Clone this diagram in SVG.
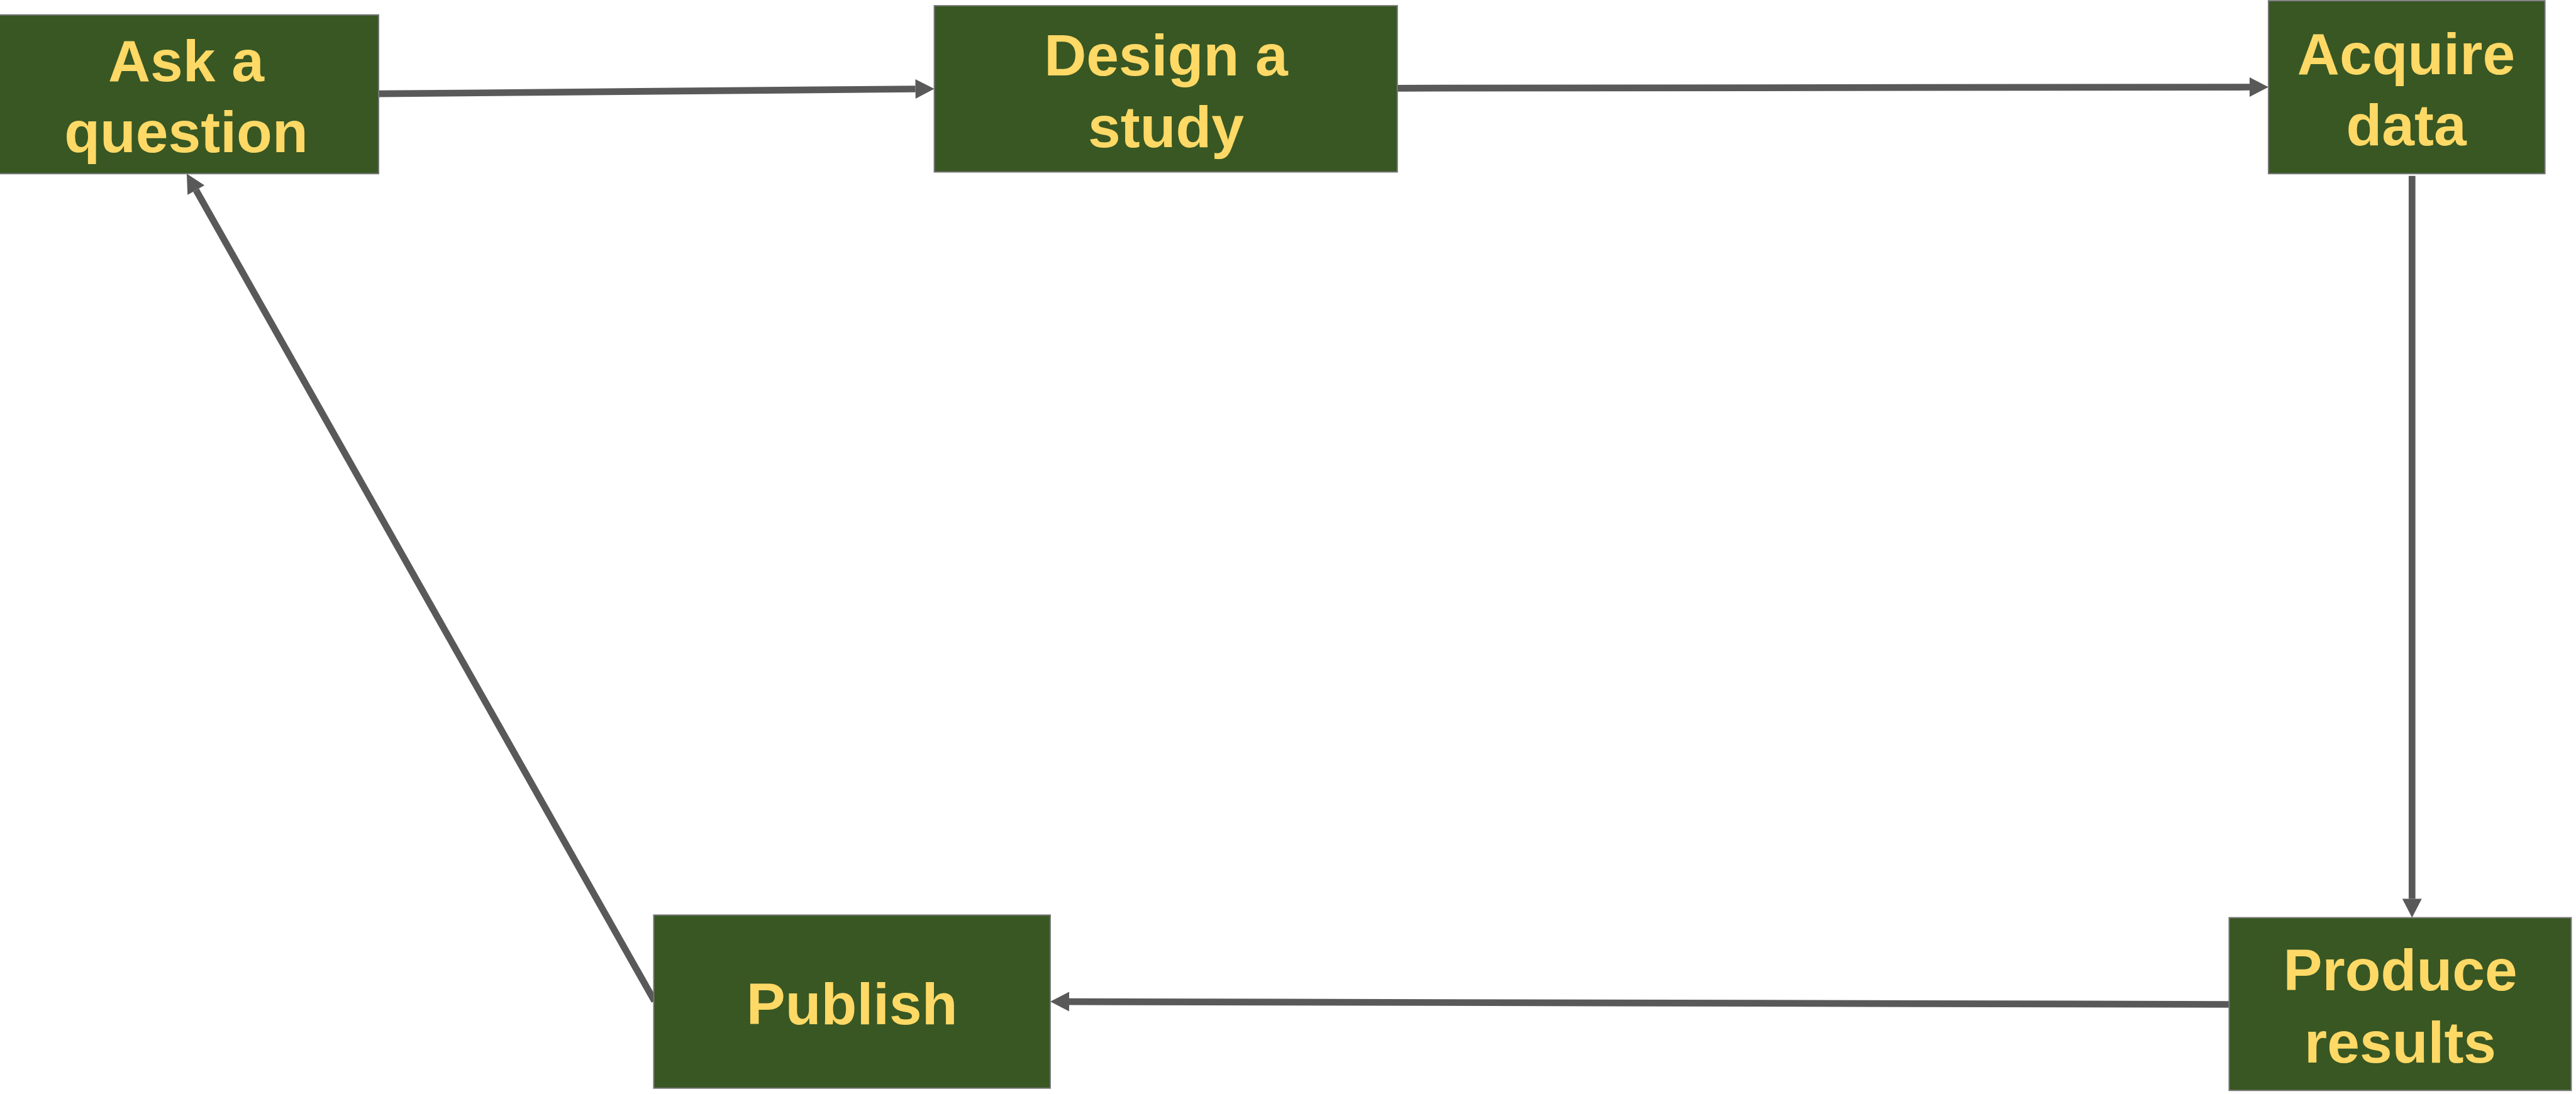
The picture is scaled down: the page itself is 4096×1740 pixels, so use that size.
<svg xmlns="http://www.w3.org/2000/svg" width="4096" height="1740" viewBox="0 0 4096 1740">
<style>
.box{fill:#385723;stroke:#767676;stroke-width:2}
.lbl{font-family:"Liberation Sans",Arial,sans-serif;font-weight:bold;font-size:93px;fill:#FFD966;text-anchor:middle}
.conn{stroke:#595959;stroke-width:10.7;fill:none;marker-end:url(#ah)}
</style>
<defs>
<marker id="ah" markerUnits="userSpaceOnUse" markerWidth="30" markerHeight="31" refX="0" refY="15.5" orient="auto" overflow="visible">
<path d="M0,0 L30,15.5 L0,31 Z" fill="#595959"/>
</marker>
</defs>
<rect width="4096" height="1740" fill="#ffffff"/>
<g id="connectors">
<line class="conn" x1="602" y1="149.2" x2="1455.6" y2="141.5"/>
<line class="conn" x1="2221.8" y1="140.3" x2="3577" y2="138.5"/>
<line class="conn" x1="3835.3" y1="279.7" x2="3835.3" y2="1429.6"/>
<line class="conn" x1="3544.5" y1="1597.5" x2="1700" y2="1593.1"/>
<line class="conn" x1="1040.7" y1="1592.2" x2="311.7" y2="302.3"/>
</g>
<g id="ask">
<rect class="box" x="-2" y="23.7" width="604" height="252.5"/>
<text class="lbl" x="296" y="128.8">Ask a</text>
<text class="lbl" x="296" y="242.4">question</text>
</g>
<g id="design">
<rect class="box" x="1485.6" y="9.1" width="736.2" height="264.4"/>
<text class="lbl" x="1854" y="119.9">Design a</text>
<text class="lbl" x="1854" y="233.5">study</text>
</g>
<g id="acquire">
<rect class="box" x="3607" y="1.2" width="439.6" height="275"/>
<text class="lbl" x="3826" y="118.1">Acquire</text>
<text class="lbl" x="3826" y="230.9">data</text>
</g>
<g id="produce">
<rect class="box" x="3544.5" y="1459.6" width="543.9" height="274.7"/>
<text class="lbl" x="3816.6" y="1575.3">Produce</text>
<text class="lbl" x="3816.6" y="1689.9">results</text>
</g>
<g id="publish">
<rect class="box" x="1039.5" y="1455.4" width="630.5" height="275.3"/>
<text class="lbl" x="1354.7" y="1628.6">Publish</text>
</g>
</svg>
